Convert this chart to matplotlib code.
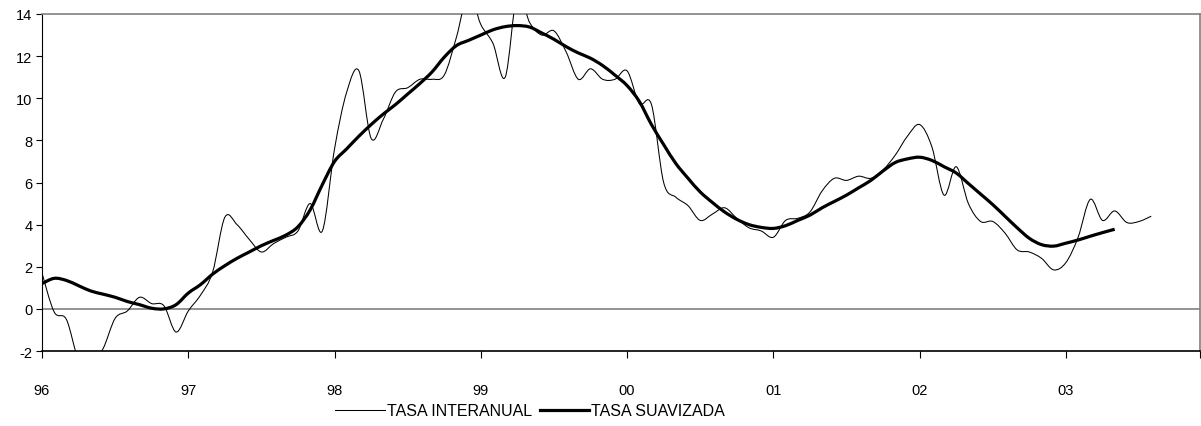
import numpy as np
import matplotlib
matplotlib.use("Agg")
import matplotlib.pyplot as plt
from matplotlib.path import Path
from matplotlib.patches import PathPatch
from matplotlib.lines import Line2D

plt.rcParams['font.family'] = ['Liberation Sans', 'DejaVu Sans']
plt.rcParams['axes.unicode_minus'] = False

# Monthly data starting January 1996
tasa_interanual = [
    1.7, -0.15, -0.5, -2.4, -2.6, -1.9, -0.45, -0.1, 0.55, 0.25, 0.15, -1.1,   # 96
    -0.1, 0.65, 1.75, 4.35, 4.0, 3.3, 2.7, 3.1, 3.4, 3.7, 5.0, 3.7,            # 97
    7.6, 10.3, 11.3, 8.1, 9.0, 10.3, 10.5, 10.9, 10.9, 11.1, 12.9, 15.0,       # 98
    13.5, 12.6, 11.0, 15.0, 13.6, 13.0, 13.2, 12.2, 10.9, 11.4, 10.9, 10.9,    # 99
    11.3, 9.75, 9.7, 6.0, 5.3, 4.9, 4.2, 4.5, 4.8, 4.3, 3.85, 3.7,             # 00
    3.4, 4.2, 4.3, 4.6, 5.6, 6.2, 6.1, 6.3, 6.2, 6.6, 7.3, 8.2,                # 01
    8.75, 7.7, 5.4, 6.75, 5.0, 4.15, 4.15, 3.6, 2.8, 2.7, 2.4, 1.85,           # 02
    2.2, 3.4, 5.2, 4.2, 4.65, 4.1, 4.15, 4.4,                                  # 03
]
tasa_suavizada = [
    1.2, 1.45, 1.35, 1.1, 0.85, 0.7, 0.55, 0.35, 0.2, 0.03, 0.0, 0.2,
    0.75, 1.15, 1.65, 2.05, 2.4, 2.7, 3.0, 3.25, 3.5, 3.9, 4.7, 5.9,
    7.0, 7.6, 8.2, 8.75, 9.25, 9.7, 10.2, 10.7, 11.25, 11.95, 12.5, 12.75,
    13.0, 13.25, 13.4, 13.45, 13.38, 13.1, 12.8, 12.45, 12.15, 11.9, 11.55, 11.1,
    10.6, 9.85, 8.75, 7.8, 6.9, 6.2, 5.55, 5.05, 4.6, 4.25, 4.0, 3.87,
    3.82, 3.95, 4.2, 4.45, 4.8, 5.1, 5.4, 5.75, 6.1, 6.55, 6.95, 7.12,
    7.2, 7.05, 6.75, 6.45, 5.95, 5.45, 4.95, 4.4, 3.85, 3.35, 3.05, 2.98,
    3.12, 3.27, 3.45, 3.62, 3.78,
]
year_labels = ['96', '97', '98', '99', '00', '01', '02', '03']
y_ticks = [-2, 0, 2, 4, 6, 8, 10, 12, 14]
labels = ['TASA INTERANUAL', 'TASA SUAVIZADA']


def smooth_path(y):
    """Excel-style smoothed line: Bezier segments through every data point."""
    y = np.asarray(y, float)
    x = np.arange(len(y), dtype=float)
    pts = np.column_stack([x, y])
    verts = [pts[0]]
    codes = [Path.MOVETO]
    n = len(pts)
    for i in range(n - 1):
        p0 = pts[i - 1] if i > 0 else pts[i]
        p1 = pts[i]
        p2 = pts[i + 1]
        p3 = pts[i + 2] if i + 2 < n else pts[i + 1]
        c1 = p1 + (p2 - p0) / 6.0
        c2 = p2 - (p3 - p1) / 6.0
        verts += [c1, c2, p2]
        codes += [Path.CURVE4] * 3
    return Path(verts, codes)


W, H = 1201, 427
fig = plt.figure(figsize=(W / 100, H / 100), dpi=100)
ax = fig.add_axes([42 / W, 1 - 352 / H, (1200 - 42) / W, (352 - 15) / H])

ax.set_xlim(0, 95)
ax.set_ylim(-2, 14)

ax.axhline(0, color='#808080', lw=1.2, zorder=1)

ax.add_patch(PathPatch(smooth_path(tasa_interanual), fill=False,
                       edgecolor='black', lw=0.75, zorder=3))
ax.add_patch(PathPatch(smooth_path(tasa_suavizada), fill=False,
                       edgecolor='black', lw=2.3, zorder=4,
                       capstyle='butt', joinstyle='round'))

ax.set_xticks(np.arange(0, 96, 12))
ax.set_xticklabels(year_labels)
ax.set_xticks([95], minor=True)
ax.set_yticks(y_ticks)
ax.tick_params(axis='x', which='both', direction='out', length=5, width=0.8,
               pad=18, labelsize=10.5, color='black')
ax.tick_params(axis='y', direction='out', length=4, width=0.8, pad=3,
               labelsize=10.5, color='black')

for s in ['top', 'right']:
    ax.spines[s].set_color('#808080')
    ax.spines[s].set_linewidth(1.2)
ax.spines['left'].set_color('black')
ax.spines['left'].set_linewidth(0.8)
ax.spines['bottom'].set_color('black')
ax.spines['bottom'].set_linewidth(1.2)

handles = [Line2D([], [], color='black', lw=0.75),
           Line2D([], [], color='black', lw=2.3)]
fig.legend(handles, labels, loc='center', bbox_to_anchor=(530 / W, 1 - 412 / H),
           ncol=2, frameon=False, fontsize=11.5, handlelength=3.1,
           handletextpad=0.1, columnspacing=0.5, borderpad=0)

fig.savefig('out.png', dpi=100)
